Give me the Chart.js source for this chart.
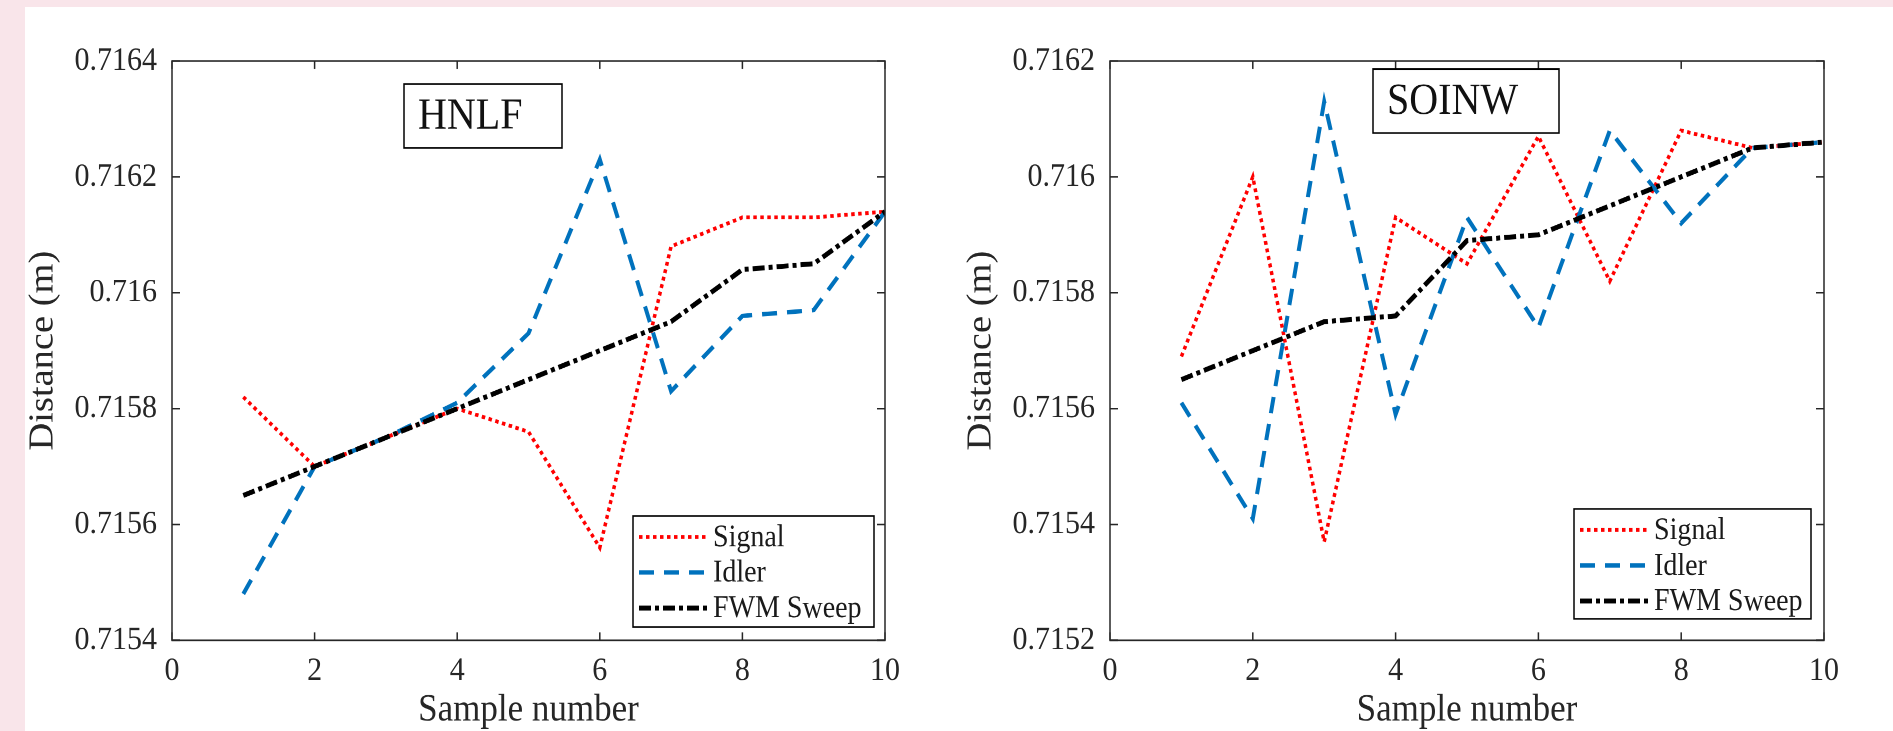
<!DOCTYPE html>
<html>
<head>
<meta charset="utf-8">
<script src="https://cdn.jsdelivr.net/npm/chart.js@4"></script>
<style>
  html, body { margin: 0; padding: 0; }
  body { width: 1893px; height: 731px; background: #f9e5ea; position: relative; overflow: hidden; }
  #sheet { position: absolute; left: 25px; top: 7px; right: 0; bottom: 0; background: #fff; }
  /* the source figure is stretched vertically, so the canvases are too */
  canvas { position: absolute; top: 0; transform-origin: 0 0; transform: scaleY(1.0992); }
  #hnlfChart { left: 0; }
  #soinwChart { left: 938px; }
</style>
</head>
<body>
<div id="sheet"></div>
<canvas id="hnlfChart" width="938" height="665"></canvas>
<canvas id="soinwChart" width="955" height="665"></canvas>
<script>
// sample index on the x axis
const samples = [1, 2, 3, 4, 5, 6, 7, 8, 9, 10];
const xTicks = [0, 2, 4, 6, 8, 10];
const seriesNames = ['Signal', 'Idler', 'FWM Sweep'];

// HNLF panel (distance in m)
const hnlfTicks = [0.7154, 0.7156, 0.7158, 0.716, 0.7162, 0.7164];
const hnlfSignal = [0.71582, 0.71570, 0.71575, 0.71580, 0.71576, 0.71556, 0.71608, 0.71613, 0.71613, 0.71614];
const hnlfIdler  = [0.71548, 0.71570, 0.71575, 0.71581, 0.71593, 0.71623, 0.71583, 0.71596, 0.71597, 0.71614];
const hnlfFwm    = [0.71565, 0.71570, 0.71575, 0.71580, 0.71585, 0.71590, 0.71595, 0.71604, 0.71605, 0.71614];

// SOINW panel
const soinwTicks = [0.7152, 0.7154, 0.7156, 0.7158, 0.716, 0.7162];
const soinwSignal = [0.71569, 0.71600, 0.71537, 0.71593, 0.71585, 0.71607, 0.71582, 0.71608, 0.71605, 0.71606];
const soinwIdler  = [0.71561, 0.71541, 0.71613, 0.71559, 0.71593, 0.71574, 0.71608, 0.71592, 0.71605, 0.71606];
const soinwFwm    = [0.71565, 0.71570, 0.71575, 0.71576, 0.71589, 0.71590, 0.71595, 0.71600, 0.71605, 0.71606];

const axisColor = '#262626';
const serif = 'Liberation Serif';

// box, inward ticks, note and legend, matlab style
const framePlugin = {
  id: 'frame',
  afterDraw(chart, args, opts) {
    const { ctx, chartArea: a, scales: { x, y } } = chart;
    ctx.save();
    ctx.strokeStyle = axisColor;
    ctx.lineWidth = 1.5;
    ctx.setLineDash([]);
    ctx.strokeRect(a.left, a.top, a.right - a.left, a.bottom - a.top);
    ctx.beginPath();
    x.ticks.forEach(tk => {
      const px = x.getPixelForValue(tk.value);
      ctx.moveTo(px, a.bottom); ctx.lineTo(px, a.bottom - 7.3);
      ctx.moveTo(px, a.top); ctx.lineTo(px, a.top + 7.3);
    });
    y.ticks.forEach(tk => {
      const py = y.getPixelForValue(tk.value);
      ctx.moveTo(a.left, py); ctx.lineTo(a.left + 8, py);
      ctx.moveTo(a.right, py); ctx.lineTo(a.right - 8, py);
    });
    ctx.stroke();

    // panel name
    const n = opts.note;
    ctx.fillStyle = '#fff';
    ctx.fillRect(n.x, n.y, n.w, n.h);
    ctx.strokeStyle = '#000';
    ctx.lineWidth = 1.5;
    ctx.strokeRect(n.x, n.y, n.w, n.h);
    ctx.fillStyle = '#111';
    ctx.font = '40px "' + serif + '"';
    ctx.textBaseline = 'middle';
    ctx.textAlign = 'left';
    ctx.fillText(n.text, n.x + 14, n.y + n.h / 2 + 1);

    // legend
    const L = opts.legend;
    ctx.fillStyle = '#fff';
    ctx.fillRect(L.x, L.y, L.w, L.h);
    ctx.strokeRect(L.x, L.y, L.w, L.h);
    ctx.font = '28px "' + serif + '"';
    chart.data.datasets.forEach((ds, i) => {
      const ly = L.y + 19.1 + i * 32.3;
      ctx.beginPath();
      ctx.strokeStyle = ds.borderColor;
      ctx.lineWidth = ds.borderWidth;
      ctx.setLineDash(ds.borderDash);
      ctx.moveTo(L.x + 6, ly);
      ctx.lineTo(L.x + 74, ly);
      ctx.stroke();
      ctx.fillStyle = '#1a1a1a';
      ctx.fillText(ds.label, L.x + 80, ly + 1);
    });
    ctx.restore();
  }
};

function series(values, i) {
  const styles = [
    { borderColor: '#ff0000', borderWidth: 3.5, borderDash: [3.5, 3.5], order: 3 },
    { borderColor: '#0072bd', borderWidth: 4, borderDash: [15, 10], order: 2 },
    { borderColor: '#000000', borderWidth: 4.5, borderDash: [12, 4, 4, 4], order: 1 }
  ];
  return Object.assign({
    label: seriesNames[i],
    data: samples.map((s, k) => ({ x: s, y: values[k] })),
    pointRadius: 0,
    fill: false,
    tension: 0,
    borderCapStyle: 'butt'
  }, styles[i]);
}

function makeChart(id, values, yTicks, rightPad, note, legend) {
  const tickFont = { family: serif, size: 30, lineHeight: 1.2 };
  const titleFont = { family: serif, size: 35, lineHeight: 1 };
  return new Chart(document.getElementById(id), {
    type: 'line',
    data: { datasets: values.map((v, i) => series(v, i)) },
    options: {
      responsive: false,
      animation: false,
      devicePixelRatio: 2,
      layout: { padding: { top: 55.5, right: rightPad, left: 0, bottom: 0 } },
      plugins: {
        legend: { display: false },
        tooltip: { enabled: false },
        frame: { note: note, legend: legend }
      },
      scales: {
        x: {
          type: 'linear',
          min: 0,
          max: 10,
          afterBuildTicks: s => { s.ticks = xTicks.map(v => ({ value: v })); },
          afterFit: s => { s.height = 82.5; },
          grid: { display: false, drawTicks: false },
          border: { display: false },
          ticks: { font: tickFont, color: axisColor, padding: 10, maxRotation: 0 },
          title: { display: true, text: 'Sample number', font: titleFont, color: axisColor, padding: { top: 0, bottom: 1 } }
        },
        y: {
          type: 'linear',
          min: yTicks[0],
          max: yTicks[yTicks.length - 1],
          afterBuildTicks: s => { s.ticks = yTicks.map(v => ({ value: v })); },
          afterFit: s => { s.width = 172; },
          grid: { display: false, drawTicks: false },
          border: { display: false },
          ticks: { font: tickFont, color: axisColor, padding: 15, callback: v => String(+v.toFixed(4)) },
          title: { display: true, text: 'Distance (m)', font: titleFont, color: axisColor, padding: { top: 26, bottom: 0 } }
        }
      }
    },
    plugins: [framePlugin]
  });
}

makeChart('hnlfChart', [hnlfSignal, hnlfIdler, hnlfFwm], hnlfTicks, 53,
  { text: 'HNLF', x: 404, y: 76.4, w: 158, h: 58.2 },
  { x: 633, y: 469.4, w: 241, h: 101 });

makeChart('soinwChart', [soinwSignal, soinwIdler, soinwFwm], soinwTicks, 69,
  { text: 'SOINW', x: 435, y: 62.8, w: 186, h: 58.2 },
  { x: 636, y: 463, w: 237, h: 100 });
</script>
</body>
</html>
